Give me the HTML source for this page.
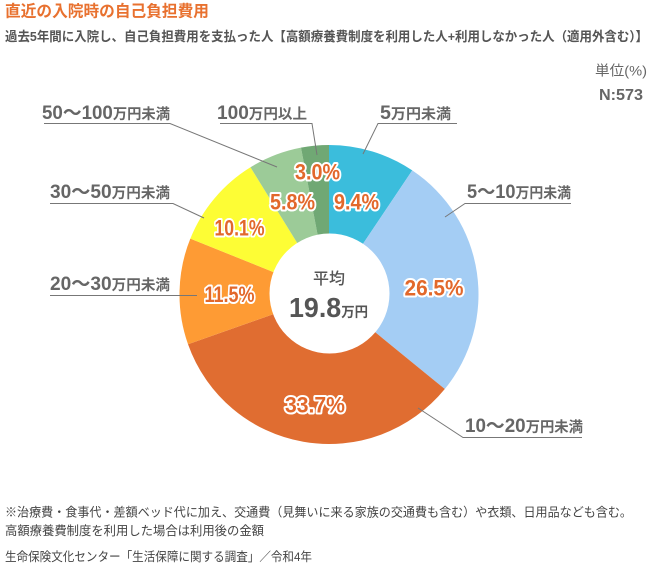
<!DOCTYPE html>
<html>
<head>
<meta charset="utf-8">
<style>
  html,body{margin:0;padding:0;background:#fff;}
  svg{display:block;}
  .jp{font-family:"Liberation Sans","Noto Sans CJK JP",sans-serif;}
  .pct{font-family:"Liberation Sans","Noto Sans CJK JP",sans-serif;font-weight:bold;font-size:22px;fill:#e2682b;stroke:#fff;stroke-width:4;stroke-linejoin:round;paint-order:stroke;}
  .lbl{font-family:"Liberation Sans","Noto Sans CJK JP",sans-serif;font-weight:bold;fill:#666;}
  .ln{fill:none;stroke:#777;stroke-width:1;}
</style>
</head>
<body>
<svg width="656" height="568" viewBox="0 0 656 568" xmlns="http://www.w3.org/2000/svg">
  <!-- header -->
  <text class="jp" x="5" y="16.5" font-size="16" font-weight="bold" fill="#e8712f" textLength="204" lengthAdjust="spacingAndGlyphs">直近の入院時の自己負担費用</text>
  <text class="jp" x="5" y="41" font-size="13" font-weight="bold" fill="#555" textLength="643" lengthAdjust="spacingAndGlyphs">過去5年間に入院し、自己負担費用を支払った人【高額療養費制度を利用した人+利用しなかった人（適用外含む）】</text>
  <text class="jp" x="595" y="75.5" font-size="14" fill="#666" textLength="52" lengthAdjust="spacingAndGlyphs">単位(%)</text>
  <text x="599" y="100" font-family="Liberation Sans, sans-serif" font-size="16" font-weight="bold" fill="#666" textLength="44" lengthAdjust="spacingAndGlyphs">N:573</text>

  <!-- pie -->
  <path d="M329 294.5 L329 145 A149.5 149.5 0 0 1 412.26 170.33 Z" fill="#3bbddc"/>
  <path d="M329 294.5 L412.26 170.33 A149.5 149.5 0 0 1 444.79 389.06 Z" fill="#a4cdf4"/>
  <path d="M329 294.5 L444.79 389.06 A149.5 149.5 0 0 1 188.02 344.25 Z" fill="#e06d31"/>
  <path d="M329 294.5 L188.02 344.25 A149.5 149.5 0 0 1 190.34 238.60 Z" fill="#fe9b34"/>
  <path d="M329 294.5 L190.34 238.60 A149.5 149.5 0 0 1 250.48 167.28 Z" fill="#fdfd35"/>
  <path d="M329 294.5 L250.48 167.28 A149.5 149.5 0 0 1 300.98 147.65 Z" fill="#9ccb98"/>
  <path d="M329 294.5 L300.98 147.65 A149.5 149.5 0 0 1 329 145 Z" fill="#70a874"/>
  <circle cx="329.5" cy="293.5" r="60" fill="#fff"/>

  <!-- center text -->
  <text class="jp" x="329" y="284" font-size="16" font-weight="500" fill="#555" text-anchor="middle">平均</text>
  <text x="289" y="317" fill="#555" textLength="79" lengthAdjust="spacingAndGlyphs"><tspan font-family="Liberation Sans, sans-serif" font-size="28" font-weight="bold">19.8</tspan><tspan class="jp" font-size="14" font-weight="bold">万円</tspan></text>

  <!-- percentage labels -->
  <text class="pct" x="317.5" y="179.5" text-anchor="middle" textLength="45" lengthAdjust="spacingAndGlyphs">3.0%</text>
  <text class="pct" x="292.5" y="209.5" text-anchor="middle" textLength="45" lengthAdjust="spacingAndGlyphs">5.8%</text>
  <text class="pct" x="356.5" y="209.5" text-anchor="middle" textLength="45" lengthAdjust="spacingAndGlyphs">9.4%</text>
  <text class="pct" x="239.5" y="235.5" text-anchor="middle" textLength="50" lengthAdjust="spacingAndGlyphs">10.1%</text>
  <text class="pct" x="434" y="295.5" text-anchor="middle" textLength="59" lengthAdjust="spacingAndGlyphs">26.5%</text>
  <text class="pct" x="229.5" y="302" text-anchor="middle" textLength="50" lengthAdjust="spacingAndGlyphs">11.5%</text>
  <text class="pct" x="315" y="412.5" text-anchor="middle" textLength="60" lengthAdjust="spacingAndGlyphs">33.7%</text>

  <!-- leader lines -->
  <polyline class="ln" points="44,123.5 170,123.5 277,167"/>
  <polyline class="ln" points="220,123.5 312,123.5 317,155"/>
  <polyline class="ln" points="457,123.5 378,123.5 363,154"/>
  <polyline class="ln" points="50,203.5 173,203.5 204,218"/>
  <polyline class="ln" points="571,203.5 465,203.5 445,217"/>
  <polyline class="ln" points="50,295.5 197,295.5"/>
  <polyline class="ln" points="582,437.5 463,437.5 418,408"/>

  <!-- category labels -->
  <text class="lbl" x="42" y="119" textLength="128" lengthAdjust="spacingAndGlyphs"><tspan font-size="19">50～100</tspan><tspan font-size="14.5">万円未満</tspan></text>
  <text class="lbl" x="217" y="119" textLength="90" lengthAdjust="spacingAndGlyphs"><tspan font-size="19">100</tspan><tspan font-size="14.5">万円以上</tspan></text>
  <text class="lbl" x="380" y="119" textLength="71" lengthAdjust="spacingAndGlyphs"><tspan font-size="19">5</tspan><tspan font-size="14.5">万円未満</tspan></text>
  <text class="lbl" x="50" y="198" textLength="120" lengthAdjust="spacingAndGlyphs"><tspan font-size="19">30～50</tspan><tspan font-size="14.5">万円未満</tspan></text>
  <text class="lbl" x="467" y="198" textLength="104" lengthAdjust="spacingAndGlyphs"><tspan font-size="19">5～10</tspan><tspan font-size="14.5">万円未満</tspan></text>
  <text class="lbl" x="50" y="290" textLength="120" lengthAdjust="spacingAndGlyphs"><tspan font-size="19">20～30</tspan><tspan font-size="14.5">万円未満</tspan></text>
  <text class="lbl" x="465" y="432" textLength="118" lengthAdjust="spacingAndGlyphs"><tspan font-size="19">10～20</tspan><tspan font-size="14.5">万円未満</tspan></text>

  <!-- footer -->
  <text class="jp" x="5" y="516.5" font-size="12.5" fill="#444" textLength="627" lengthAdjust="spacingAndGlyphs">※治療費・食事代・差額ベッド代に加え、交通費（見舞いに来る家族の交通費も含む）や衣類、日用品なども含む。</text>
  <text class="jp" x="5" y="535" font-size="12.4" fill="#444" textLength="259" lengthAdjust="spacingAndGlyphs">高額療養費制度を利用した場合は利用後の金額</text>
  <text class="jp" x="5" y="561" font-size="12.4" fill="#444" textLength="307" lengthAdjust="spacingAndGlyphs">生命保険文化センター「生活保障に関する調査」／令和4年</text>
</svg>
</body>
</html>
